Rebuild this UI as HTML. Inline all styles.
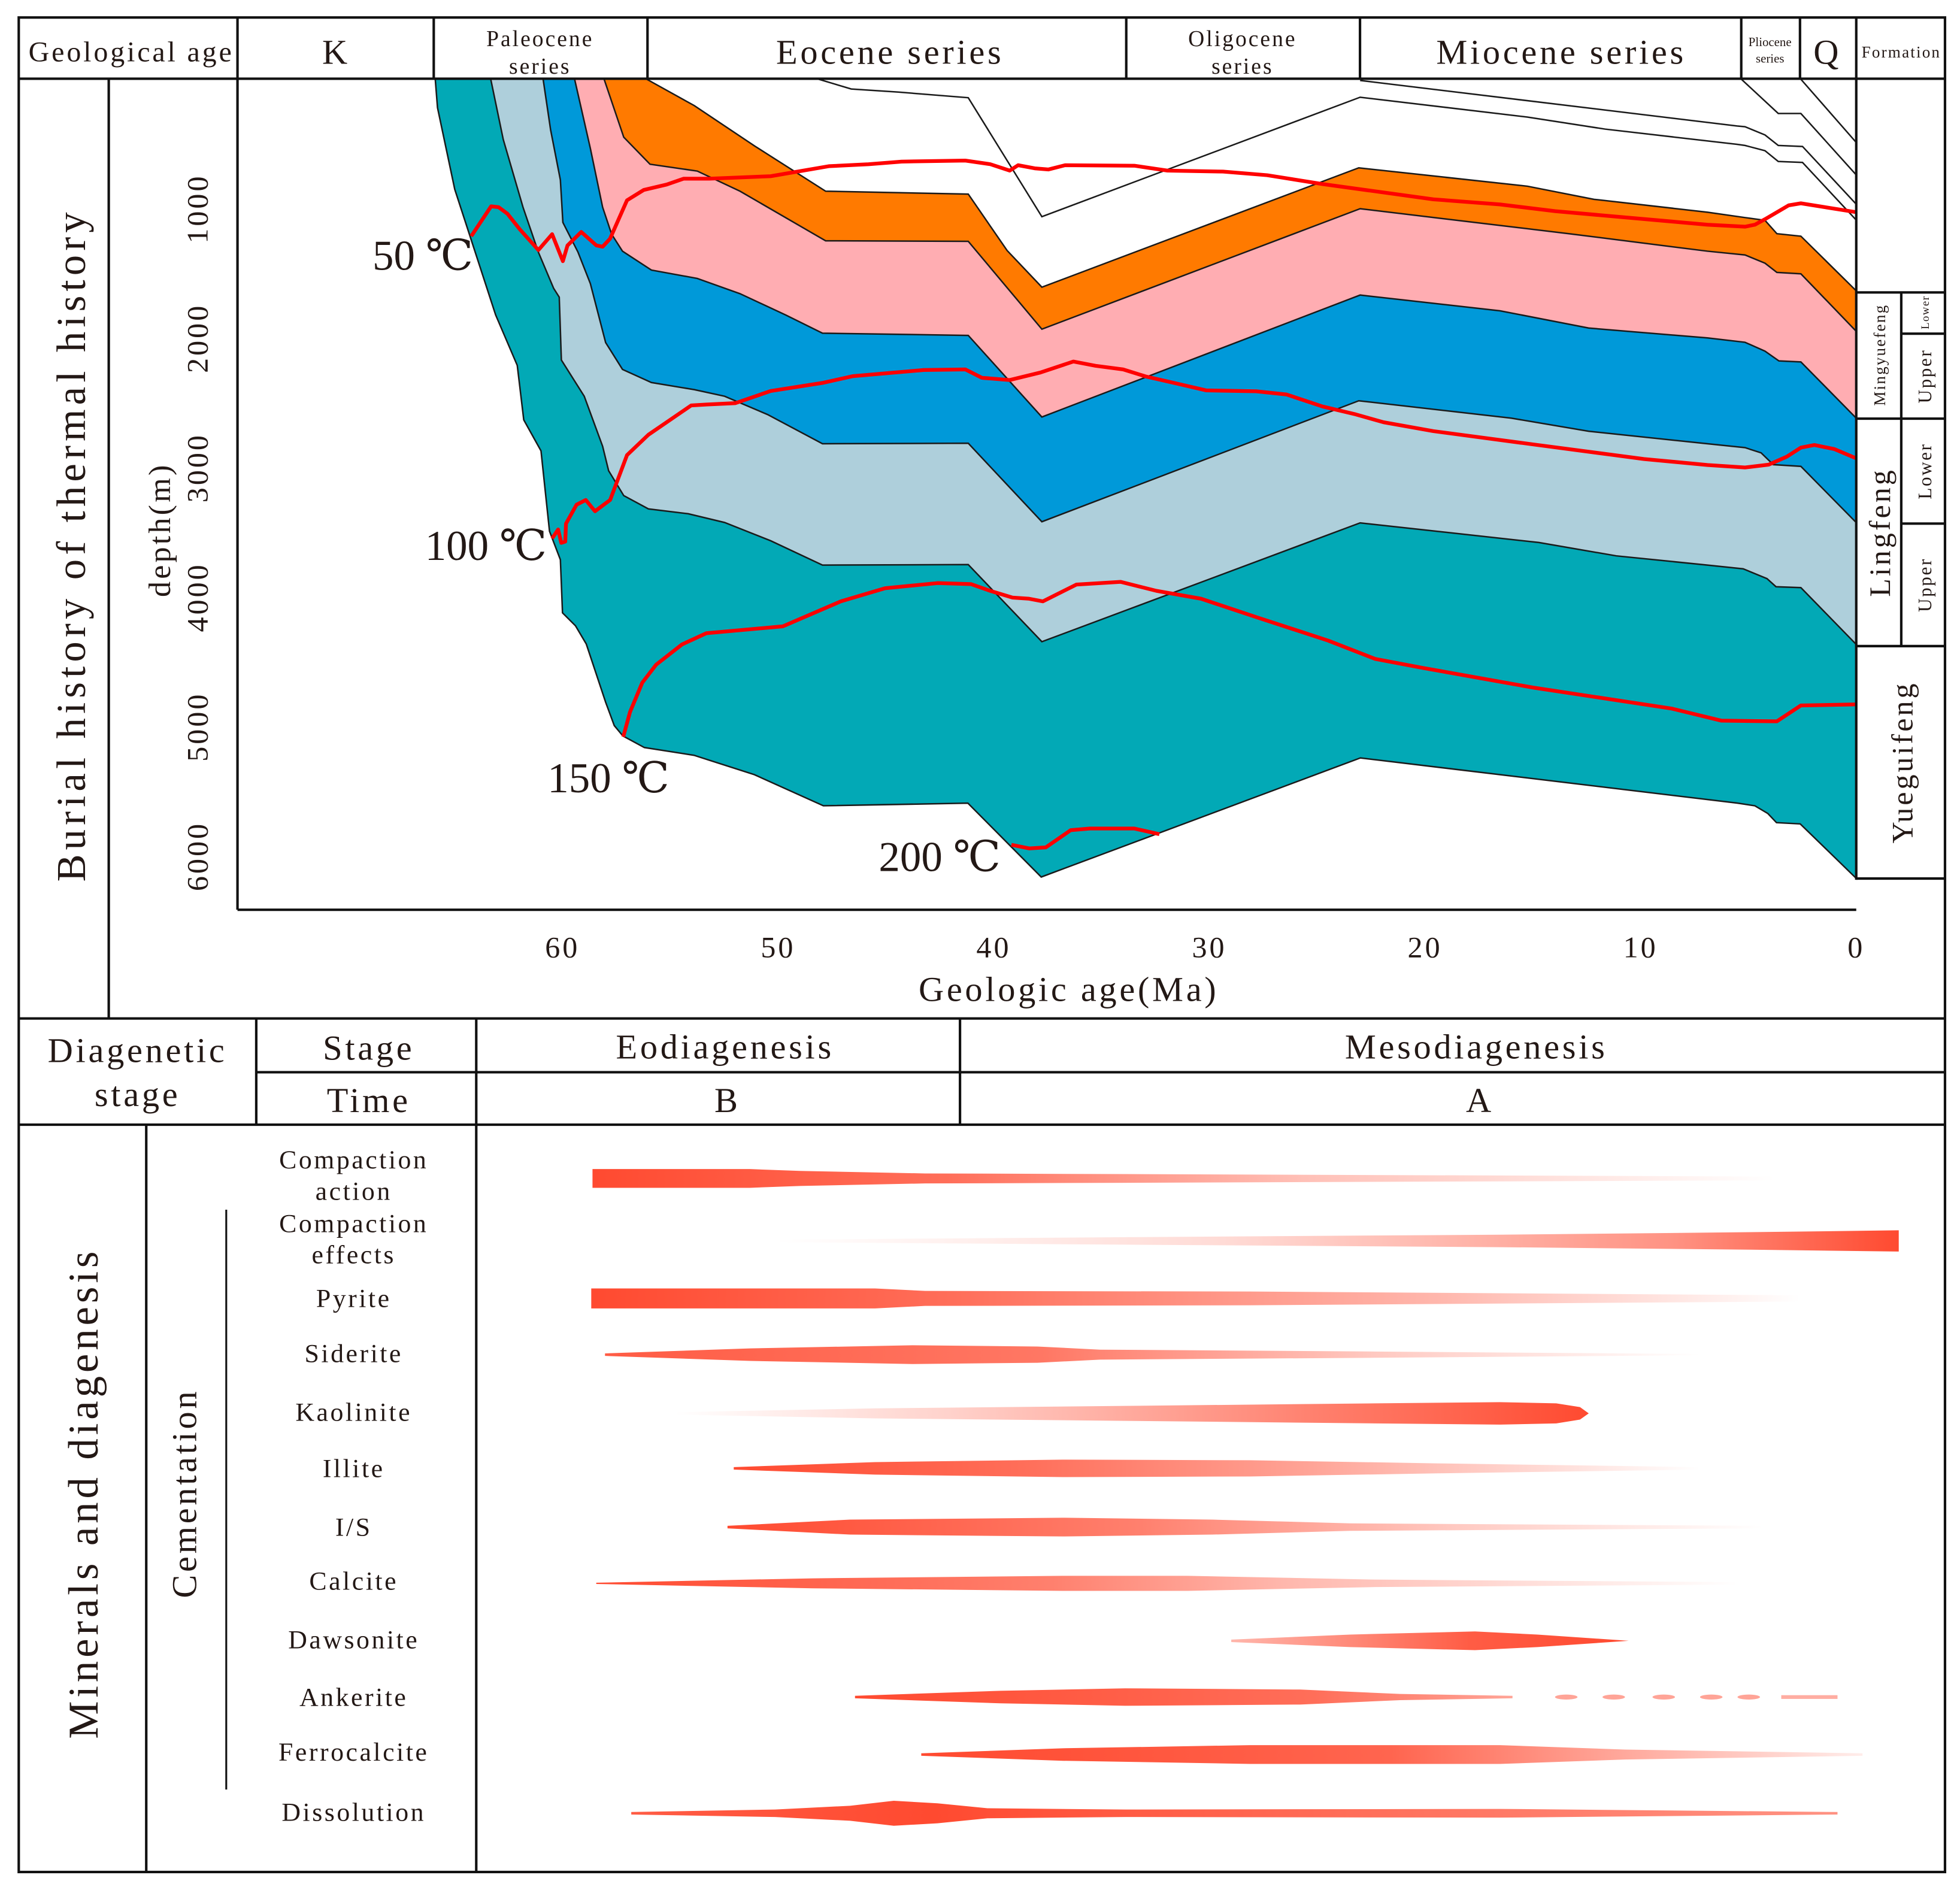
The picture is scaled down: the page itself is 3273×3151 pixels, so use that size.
<!DOCTYPE html>
<html><head><meta charset="utf-8"><title>Burial and thermal history with diagenesis</title>
<style>
html,body{margin:0;padding:0;background:#fff;}
svg{display:block;}
text{font-family:"Liberation Serif","DejaVu Serif",serif;fill:#231815;letter-spacing:0.08em;}
</style></head>
<body>
<svg id="fig" width="3273" height="3151" viewBox="0 0 1568 1510" preserveAspectRatio="none" xmlns="http://www.w3.org/2000/svg">
<defs id="defs"></defs>
<rect x="0" y="0" width="1568" height="1510" fill="#fff"/>
<g id="layers"></g>
<g id="hlines"></g>
<g id="temps"></g>
<g id="bars"></g>
<g id="frame" fill="none" stroke="#111" stroke-width="2">
  <rect x="15" y="14" width="1541" height="1484"/>
  <line x1="15" y1="63" x2="1556" y2="63"/>
  <line x1="190" y1="14" x2="190" y2="728"/>
  <line x1="347" y1="14" x2="347" y2="63"/>
  <line x1="518" y1="14" x2="518" y2="63"/>
  <line x1="901" y1="14" x2="901" y2="63"/>
  <line x1="1088" y1="14" x2="1088" y2="63"/>
  <line x1="1393" y1="14" x2="1393" y2="63"/>
  <line x1="1440" y1="14" x2="1440" y2="63"/>
  <line x1="1485" y1="14" x2="1485" y2="704"/>
  <line x1="190" y1="728" x2="1485" y2="728"/>
  <line x1="87" y1="63" x2="87" y2="815"/>
  <line x1="1485" y1="234" x2="1556" y2="234"/>
  <line x1="1485" y1="335" x2="1556" y2="335"/>
  <line x1="1485" y1="517" x2="1556" y2="517"/>
  <line x1="1485" y1="703" x2="1556" y2="703"/>
  <line x1="1521" y1="234" x2="1521" y2="517"/>
  <line x1="1521" y1="267" x2="1556" y2="267"/>
  <line x1="1521" y1="419" x2="1556" y2="419"/>
  <line x1="15" y1="815" x2="1556" y2="815"/>
  <line x1="205" y1="858" x2="1556" y2="858"/>
  <line x1="15" y1="900" x2="1556" y2="900"/>
  <line x1="205" y1="815" x2="205" y2="900"/>
  <line x1="381" y1="815" x2="381" y2="1498"/>
  <line x1="768" y1="815" x2="768" y2="900"/>
  <line x1="117" y1="900" x2="117" y2="1498"/>
  <line x1="181" y1="968" x2="181" y2="1432" stroke-width="1.5"/>
</g>
<g id="texts">
  <text x="105" y="49" font-size="23" text-anchor="middle">Geological age</text>
  <text x="269" y="51" font-size="28" text-anchor="middle">K</text>
  <text x="432" y="37" font-size="18" text-anchor="middle">Paleocene</text>
  <text x="432" y="59" font-size="18" text-anchor="middle">series</text>
  <text x="712" y="51" font-size="28" text-anchor="middle">Eocene series</text>
  <text x="994" y="37" font-size="18" text-anchor="middle">Oligocene</text>
  <text x="994" y="59" font-size="18" text-anchor="middle">series</text>
  <text x="1249" y="51" font-size="28" text-anchor="middle">Miocene series</text>
  <text x="1416" y="37" font-size="10" text-anchor="middle" style="letter-spacing:0">Pliocene</text>
  <text x="1416" y="50" font-size="10" text-anchor="middle" style="letter-spacing:0">series</text>
  <text x="1462" y="51" font-size="28" text-anchor="middle">Q</text>
  <text x="1521" y="46" font-size="13" text-anchor="middle">Formation</text>
  <text transform="translate(68,436) rotate(-90)" font-size="33" text-anchor="middle" style="letter-spacing:3.4px">Burial history of thermal history</text>
  <text transform="translate(136,424) rotate(-90)" font-size="25" text-anchor="middle">depth(m)</text>
  <text x="855" y="801" font-size="28" text-anchor="middle">Geologic age(Ma)</text>
  <text x="298" y="216" font-size="34" style="letter-spacing:0">50 ℃</text>
  <text x="340" y="448" font-size="34" style="letter-spacing:0">100 ℃</text>
  <text x="438" y="634" font-size="34" style="letter-spacing:0">150 ℃</text>
  <text x="703" y="697" font-size="34" style="letter-spacing:0">200 ℃</text>
  <text transform="translate(1508,284) rotate(-90)" font-size="13" text-anchor="middle">Mingyuefeng</text>
  <text transform="translate(1543,250) rotate(-90)" font-size="9" text-anchor="middle">Lower</text>
  <text transform="translate(1545,301) rotate(-90)" font-size="15" text-anchor="middle">Upper</text>
  <text transform="translate(1512,426) rotate(-90)" font-size="24" text-anchor="middle">Lingfeng</text>
  <text transform="translate(1545,377) rotate(-90)" font-size="15" text-anchor="middle">Lower</text>
  <text transform="translate(1545,468) rotate(-90)" font-size="15" text-anchor="middle">Upper</text>
  <text transform="translate(1530,610) rotate(-90)" font-size="24" text-anchor="middle">Yueguifeng</text>
  <text x="110" y="850" font-size="28" text-anchor="middle">Diagenetic</text>
  <text x="110" y="885" font-size="28" text-anchor="middle">stage</text>
  <text x="295" y="848" font-size="28" text-anchor="middle">Stage</text>
  <text x="295" y="890" font-size="28" text-anchor="middle">Time</text>
  <text x="580" y="847" font-size="28" text-anchor="middle">Eodiagenesis</text>
  <text x="582" y="890" font-size="28" text-anchor="middle">B</text>
  <text x="1181" y="847" font-size="28" text-anchor="middle">Mesodiagenesis</text>
  <text x="1184" y="890" font-size="28" text-anchor="middle">A</text>
  <text transform="translate(78,1195) rotate(-90)" font-size="34" text-anchor="middle" style="letter-spacing:2.8px">Minerals and diagenesis</text>
  <text transform="translate(157,1195) rotate(-90)" font-size="28" text-anchor="middle">Cementation</text>
</g>
<g id="ticks"></g>
</svg>
<script>
// ---------- burial chart data (age in Ma, depth in m) ----------
const baseAge=[65.9,65.8,65.0,63.1,62.1,61.8,61.0,60.6,60.1,60.0,59.4,58.9,58.0,57.6,57.2,56.2,53.9,51.1,47.9,41.2,37.8,23.0,5.5,4.7,4.1,3.7,2.6,0];
const baseDepth=[0,220,850,1820,2210,2630,2870,3490,3710,4120,4220,4360,4810,4990,5070,5160,5220,5370,5610,5590,6160,5240,5590,5610,5670,5740,5750,6170];
const h2Age=[63.33,62.75,61.83,61.12,60.41,60.15,60.05,58.99,58.14,57.86,57.16,56.02,54.17,52.48,50.35,47.94,41.18,37.77,23.01,14.72,11.13,6.90,5.24,4.14,3.72,2.57,0];
const h2Depth=[0,465,988,1335,1614,1683,2168,2448,2834,3023,3215,3317,3355,3422,3563,3751,3748,4343,3425,3577,3680,3751,3780,3856,3918,3925,4364];
const h3Age=[60.90,60.55,60.10,59.98,59.28,58.71,58.00,57.22,55.88,53.89,52.48,50.49,47.94,41.18,37.77,23.07,16.00,12.41,6.90,5.16,4.41,3.85,2.57,0];
const h3Depth=[0,392,778,1106,1335,1579,2033,2240,2342,2397,2448,2589,2815,2811,3417,2483,2617,2718,2815,2844,2885,2976,2989,3423];
const h4Age=[59.44,58.71,58.14,57.72,57.22,55.88,53.75,51.77,49.64,47.94,41.18,37.77,23.01,16.52,12.41,6.90,5.16,4.23,3.59,2.57,0];
const h4Depth=[0,535,988,1196,1328,1473,1538,1656,1821,1961,1978,2608,1666,1788,1921,1997,2031,2100,2175,2183,2617];
const h5Age=[58.07,57.16,55.94,53.75,51.77,47.80,41.18,37.77,23.01,13.33,6.90,5.16,4.23,3.68,2.57,0];
const h5Depth=[0,448,656,709,865,1248,1251,1930,1000,1193,1328,1357,1420,1492,1502,1946];
const h6Age=[56.09,53.89,51.07,47.80,41.18,39.38,37.77,23.07,15.25,12.16,6.90,5.16,4.23,3.68,2.57,0];
const h6Depth=[0,204,517,865,887,1323,1606,684,826,927,1027,1068,1089,1193,1212,1634];
const laAge=[48.12,46.61,44.43,41.18,37.77,23.01,15.25,11.65,5.53,5.16,4.23,3.62,2.49,0];
const laDepth=[0,75,99,143,1061,139,292,385,503,511,552,635,643,1087];
const lbAge=[23.01,5.53,5.16,4.23,3.62,2.49,0];
const lbDepth=[10,361,367,430,511,519,965];
const lcAge=[5.33,3.62,2.57,0];
const lcDepth=[0,264,264,739];
const ldAge=[2.57,0];
const ldDepth=[0,488];
const t50Age=[64.23,63.31,62.96,62.55,61.97,61.12,60.48,59.98,59.77,59.13,58.43,58.14,57.80,57.01,56.23,55.17,54.39,53.18,50.35,47.65,45.81,44.27,41.32,40.16,39.26,38.87,38.10,37.46,36.69,33.48,31.94,29.37,27.32,24.75,19.61,16.52,13.96,6.90,5.16,4.70,4.23,3.13,2.57,0];
const t50Depth=[1212,981,988,1039,1161,1319,1196,1405,1283,1179,1283,1293,1232,935,855,813,768,768,749,672,656,636,628,656,705,664,688,697,664,668,705,713,741,810,927,967,1019,1123,1139,1123,1081,974,958,1027];
const t100Age=[60.48,60.20,60.06,59.87,59.84,59.35,58.92,58.49,57.79,57.01,56.02,54.03,53.33,51.98,50.35,47.94,46.53,43.25,41.32,40.55,39.26,37.84,36.31,35.28,34.00,32.96,31.42,30.14,27.83,26.42,24.75,23.21,21.92,19.61,14.99,9.85,6.90,5.16,4.06,3.22,2.57,1.94,1.01,0];
const t100Depth=[3546,3476,3580,3570,3431,3285,3249,3336,3249,2902,2745,2518,2512,2501,2407,2345,2293,2245,2240,2305,2322,2265,2180,2212,2240,2294,2353,2403,2409,2434,2527,2588,2649,2717,2819,2932,2979,2998,2976,2914,2844,2824,2856,2927];
const t150Age=[57.18,56.87,56.30,55.66,54.46,53.33,49.78,47.09,45.04,42.61,41.06,40.16,39.13,38.36,37.72,36.17,34.12,32.45,30.39,27.83,24.49,22.31,20.12,14.99,8.56,6.25,3.68,2.57,0];
const t150Depth=[5077,4886,4659,4520,4364,4277,4224,4031,3930,3890,3898,3950,4002,4011,4031,3902,3881,3950,4011,4153,4334,4476,4545,4697,4859,4953,4958,4835,4827];
const t200Age=[39.18,38.36,37.59,36.43,35.54,33.48,32.32];
const t200Depth=[5911,5939,5931,5798,5785,5785,5829];
const xTickLabels=[60,50,40,30,20,10,0];
const yTickLabels=[1000,2000,3000,4000,5000,6000];

// ---------- diagenesis bar data ----------
const mineralNames=["Compaction action","Compaction effects","Pyrite","Siderite","Kaolinite","Illite","I/S","Calcite","Dawsonite","Ankerite","Ferrocalcite","Dissolution"];

// ---------- axis functions ----------
function X(a){return 1485-a*17.25;}
function Y(d){return 63.4+d*0.10364;}
const NS="http://www.w3.org/2000/svg";
function mk(tag,parent){const e=document.createElementNS(NS,tag);parent.appendChild(e);return e;}
function pts(ages,depths){return ages.map((a,i)=>X(a).toFixed(1)+","+Y(depths[i]).toFixed(1));}

const layers=document.getElementById('layers');
function fillLayer(upA,upD,loA,loD,color,name){
  const p=mk('polygon',layers);
  p.setAttribute('points',pts(upA,upD).concat(pts(loA,loD).reverse()).join(' '));
  p.setAttribute('fill',color);
  
  
}
fillLayer(h2Age,h2Depth,baseAge,baseDepth,'#02a9b6','yueguifeng-layer');
fillLayer(h3Age,h3Depth,h2Age,h2Depth,'#aecfdb','lingfeng-upper-layer');
fillLayer(h4Age,h4Depth,h3Age,h3Depth,'#0099d9','lingfeng-lower-layer');
fillLayer(h5Age,h5Depth,h4Age,h4Depth,'#ffadb2','mingyuefeng-upper-layer');
fillLayer([58.07].concat(h6Age),[0].concat(h6Depth),h5Age,h5Depth,'#ff7a00','mingyuefeng-lower-layer');

const hl=document.getElementById('hlines');
function hline(ag,dp,name){
  const l=mk('polyline',hl);
  l.setAttribute('points',pts(ag,dp).join(' '));
  l.setAttribute('fill','none');l.setAttribute('stroke','#1a1a1a');l.setAttribute('stroke-width','1.2');
  
  
}
hline(baseAge,baseDepth,'basement-horizon');
hline(h2Age,h2Depth,'horizon-2');
hline(h3Age,h3Depth,'horizon-3');
hline(h4Age,h4Depth,'horizon-4');
hline(h5Age,h5Depth,'horizon-5');
hline(h6Age,h6Depth,'horizon-6');
hline(laAge,laDepth,'thin-horizon-a');
hline(lbAge,lbDepth,'thin-horizon-b');
hline(lcAge,lcDepth,'thin-horizon-c');
hline(ldAge,ldDepth,'thin-horizon-d');

const tg=document.getElementById('temps');
function tline(ag,dp,name){
  const l=mk('polyline',tg);
  l.setAttribute('points',pts(ag,dp).join(' '));
  l.setAttribute('fill','none');l.setAttribute('stroke','#ff0000');l.setAttribute('stroke-width','3');
  l.setAttribute('stroke-linejoin','round');
  
  
}
tline(t50Age,t50Depth,'isotherm-50');
tline(t100Age,t100Depth,'isotherm-100');
tline(t150Age,t150Depth,'isotherm-150');
tline(t200Age,t200Depth,'isotherm-200');

const tk=document.getElementById('ticks');
xTickLabels.forEach(v=>{
  const t=mk('text',tk);
  t.setAttribute('x',X(v));t.setAttribute('y',766);t.setAttribute('font-size','24');t.setAttribute('text-anchor','middle');
  t.textContent=v;
  
  
});
yTickLabels.forEach(v=>{
  const t=mk('text',tk);
  t.setAttribute('transform','translate(166,'+Y(v)+') rotate(-90)');
  t.setAttribute('font-size','24');t.setAttribute('text-anchor','middle');
  t.textContent=v;
  
  
});

// ---------- diagenesis bars ----------
const barY=[943,993,1039,1084,1131,1175,1222,1267,1313,1358,1404,1451];
const labelY=[[928,953],[979,1004],[1039],[1083],[1130],[1175],[1222],[1265],[1312],[1358],[1402],[1450]];
const labelText=[["Compaction","action"],["Compaction","effects"],["Pyrite"],["Siderite"],["Kaolinite"],["Illite"],["I/S"],["Calcite"],["Dawsonite"],["Ankerite"],["Ferrocalcite"],["Dissolution"]];
const shapes=[
 [[474,7.5],[600,7.5],[640,6],[740,4],[900,3.5],[1420,1.5]],
 [[620,1],[900,3],[1200,5],[1400,7],[1519,8.5]],
 [[473,8],[700,8],[740,6],[1000,5.5],[1440,2.5]],
 [[484,1],[600,5],[730,7.5],[830,6.5],[880,4],[1100,2.5],[1360,0.5]],
 [[540,1],[700,4],[900,6],[1100,8],[1200,9],[1245,8],[1264,5],[1271,0]],
 [[587,1],[700,5],[850,7],[1000,6.5],[1150,4],[1360,1]],
 [[582,1],[680,6],[850,7.5],[970,6],[1080,3],[1410,1]],
 [[477,0.5],[650,4],[850,6],[950,6],[1100,3],[1390,1]],
 [[985,1],[1080,5],[1180,7.5],[1230,5],[1303,0]],
 [[684,1],[800,5],[900,7],[1040,6],[1120,2.5],[1210,1]],
 [[737,1],[850,5],[1000,7.5],[1200,7.5],[1300,4],[1490,1]],
 [[505,1],[620,3],[680,6],[715,10],[750,8],[790,4],[900,3],[1200,3.5],[1470,1]]
];
const stops=[
 [[0,1],[0.3,0.8],[0.6,0.35],[1,0]],
 [[0,0],[0.4,0.2],[0.8,0.6],[1,1]],
 [[0,1],[0.3,0.8],[0.7,0.4],[1,0]],
 [[0,0.9],[0.4,0.75],[0.7,0.3],[1,0]],
 [[0,0],[0.3,0.25],[0.7,0.7],[1,1]],
 [[0,1],[0.3,0.8],[0.6,0.5],[1,0]],
 [[0,1],[0.4,0.7],[0.7,0.3],[1,0]],
 [[0,1],[0.4,0.7],[0.6,0.4],[1,0]],
 [[0,0.4],[0.6,0.9],[1,1]],
 [[0,1],[0.7,0.8],[1,0.5]],
 [[0,1],[0.5,0.85],[1,0.1]],
 [[0,0.9],[0.25,1],[0.6,0.8],[1,0.6]]
];
const defs=document.getElementById('defs');
const bars=document.getElementById('bars');
const tx=document.getElementById('texts');
mineralNames.forEach((nm,i)=>{
  const g=mk('linearGradient',defs);
  g.setAttribute('id','g'+i);
  stops[i].forEach(s=>{const st=mk('stop',g);st.setAttribute('offset',s[0]);st.setAttribute('stop-color','#ff4a30');st.setAttribute('stop-opacity',s[1]);});
  const y=barY[i],sh=shapes[i];
  const top=sh.map(p=>p[0]+","+(y-p[1]));
  const bot=sh.map(p=>p[0]+","+(y+p[1])).reverse();
  const p=mk('polygon',bars);
  p.setAttribute('points',top.concat(bot).join(' '));
  p.setAttribute('fill','url(#g'+i+')');
  
  
  labelText[i].forEach((s,j)=>{
    const t=mk('text',tx);
    t.setAttribute('x',283);t.setAttribute('y',labelY[i][j]+7);t.setAttribute('font-size','21');t.setAttribute('text-anchor','middle');
    t.textContent=s;
    
    
  });
});
const dashX=[1253,1291,1331,1369,1399];
dashX.forEach(cx=>{
  const e=mk('ellipse',bars);
  e.setAttribute('cx',cx);e.setAttribute('cy',1358);e.setAttribute('rx',9);e.setAttribute('ry',2);
  e.setAttribute('fill','#ff4a30');e.setAttribute('fill-opacity','0.5');
  
  
});
const tail=mk('rect',bars);
tail.setAttribute('x',1425);tail.setAttribute('y',1356.5);tail.setAttribute('width',45);tail.setAttribute('height',3);
tail.setAttribute('fill','#ff4a30');tail.setAttribute('fill-opacity','0.45');


</script>
</body></html>
